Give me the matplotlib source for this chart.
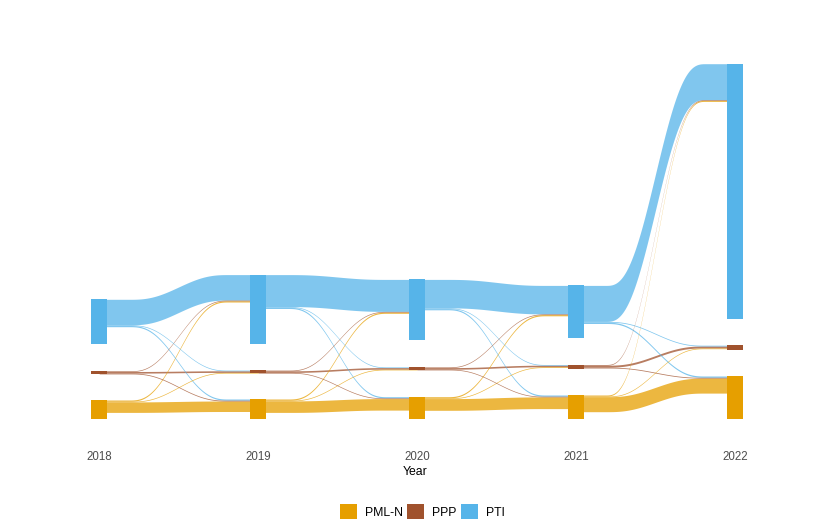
import matplotlib
matplotlib.use('Agg')
import matplotlib.pyplot as plt
from matplotlib.patches import Patch
import numpy as np

plt.rcParams['font.family'] = ['Liberation Sans', 'DejaVu Sans']

years = [2018, 2019, 2020, 2021, 2022]
parties = ['PML-N', 'PPP', 'PTI']          # stacked from the bottom
colors = ['#E69F00', '#A0522D', '#56B4E9']

# stratum sizes per year
pmln = [19.0, 20.0, 22.3, 24.0, 43.0]
ppp = [2.7, 2.4, 3.3, 4.0, 4.3]
pti = [45.0, 69.0, 61.0, 52.6, 255.0]

# flows between years, rows = from, cols = to (PML-N, PPP, PTI)
flow_2018_2019 = [[10.5, 0.7, 1.2],
                  [0.8, 1.6, 0.7],
                  [1.2, 0.7, 25.5]]
flow_2019_2020 = [[11.5, 0.7, 1.2],
                  [0.7, 1.6, 0.7],
                  [1.2, 0.7, 32.0]]
flow_2020_2021 = [[11.7, 0.7, 1.2],
                  [0.7, 1.6, 0.7],
                  [1.2, 0.7, 28.5]]
flow_2021_2022 = [[15.0, 0.7, 1.0],
                  [0.8, 2.0, 0.7],
                  [1.3, 0.8, 36.0]]
flows = [flow_2018_2019, flow_2019_2020, flow_2020_2021, flow_2021_2022]

gap = 26.5
hw = 0.05

sizes = np.array([pmln, ppp, pti])
bottoms = np.zeros_like(sizes)
for k in range(1, 3):
    bottoms[k] = bottoms[k - 1] + sizes[k - 1] + gap
tops = bottoms + sizes


def s_curve(t):
    u = np.clip((t - 0.15) / 0.7, 0, 1)
    return u ** 3 * (u * (6 * u - 15) + 10)


fig = plt.figure(figsize=(8.3, 5.29), dpi=100)
ax = fig.add_axes([0, 89 / 529, 1, 420 / 529])

t = np.linspace(0, 1, 200)
for i, F in enumerate(flows):
    F = np.array(F)
    x0, x1 = i + hw, i + 1 - hw
    # flat ends run under the strata so no seam shows at the edges
    xs = np.concatenate([[i], x0 + (x1 - x0) * t, [i + 1]])
    f = np.concatenate([[0], s_curve(t), [1]])
    # positions at source (ordered by destination, top first)
    src = {}
    for s in range(3):
        cur = tops[s, i]
        for d in [2, 1, 0]:
            src[(s, d)] = (cur - F[s, d], cur)
            cur -= F[s, d]
    dst = {}
    for d in range(3):
        cur = tops[d, i + 1]
        for s in [2, 1, 0]:
            dst[(s, d)] = (cur - F[s, d], cur)
            cur -= F[s, d]
    order = sorted(src.keys(), key=lambda k: -F[k])
    for s, d in order:
        b0, t0 = src[(s, d)]
        b1, t1 = dst[(s, d)]
        ax.fill_between(xs, b0 + (b1 - b0) * f, t0 + (t1 - t0) * f,
                        color=colors[s], alpha=0.75, linewidth=0)

for k in range(3):
    ax.bar(range(len(years)), sizes[k], bottom=bottoms[k], width=2 * hw,
           color=colors[k], linewidth=0, zorder=3)

ax.set_xlim(-99.2 / 158.9, (830 - 99.2) / 158.9)
ax.set_ylim(-21, 399)
ax.set_xticks(range(len(years)))
ax.set_xticklabels(years, fontsize=8.3, color='#4D4D4D')
ax.tick_params(axis='x', length=0, pad=8)
ax.set_yticks([])
ax.set_xlabel('Year', fontsize=8.8, labelpad=2)
for sp in ax.spines.values():
    sp.set_visible(False)

handles = [Patch(facecolor=c, linewidth=0) for c in colors]
fig.legend(handles, parties, loc='center', bbox_to_anchor=(422 / 830, 17.5 / 529),
           ncol=3, frameon=False, fontsize=8.8, handlelength=1.4, handleheight=1.4,
           handletextpad=0.65, columnspacing=0.35)

fig.savefig('out.png', dpi=100)
